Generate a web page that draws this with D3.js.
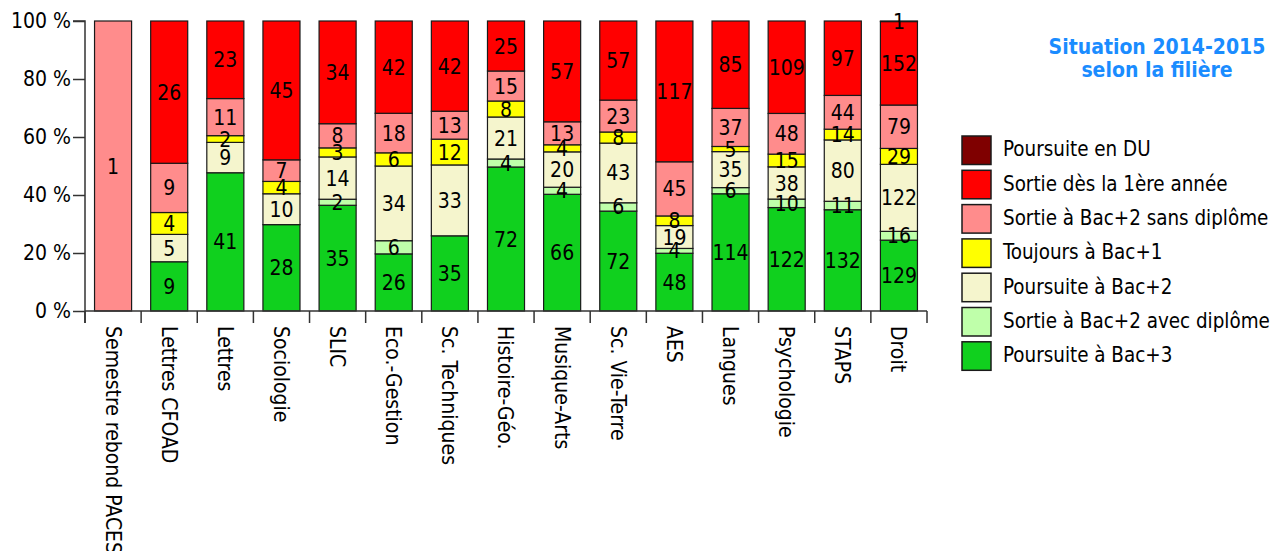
<!DOCTYPE html>
<html>
<head>
<meta charset="utf-8">
<script src="https://cdn.jsdelivr.net/npm/d3@7"></script>
<style>
  body { margin: 0; background: #fff; }
  text { font-family: "DejaVu Sans Condensed", "DejaVu Sans", sans-serif; }
</style>
</head>
<body>
<svg id="chart" width="1274" height="551"></svg>
<script>
// Data
const categories = ["Semestre rebond PACES", "Lettres CFOAD", "Lettres", "Sociologie", "SLIC",
  "Eco.-Gestion", "Sc. Techniques", "Histoire-Géo.", "Musique-Arts", "Sc. Vie-Terre",
  "AES", "Langues", "Psychologie", "STAPS", "Droit"]

// series, bottom to top
const poursuiteBac3      = [0, 9, 41, 28, 35, 26, 35, 72, 66, 72, 48, 114, 122, 132, 129]
const sortieAvecDiplome  = [0, 0, 0, 0, 2, 6, 0, 4, 4, 6, 4, 6, 10, 11, 16]
const poursuiteBac2      = [0, 5, 9, 10, 14, 34, 33, 21, 20, 43, 19, 35, 38, 80, 122]
const toujoursBac1       = [0, 4, 2, 4, 3, 6, 12, 8, 4, 8, 8, 5, 15, 14, 29]
const sortieSansDiplome  = [1, 9, 11, 7, 8, 18, 13, 15, 13, 23, 45, 37, 48, 44, 79]
const sortie1ereAnnee    = [0, 26, 23, 45, 34, 42, 42, 25, 57, 57, 117, 85, 109, 97, 152]
const poursuiteDU        = [0, 0, 0, 0, 0, 0, 0, 0, 0, 0, 0, 0, 0, 0, 1]

const seriesNames = ["Poursuite à Bac+3", "Sortie à Bac+2 avec diplôme", "Poursuite à Bac+2",
  "Toujours à Bac+1", "Sortie à Bac+2 sans diplôme", "Sortie dès la 1ère année", "Poursuite en DU"]
const seriesValues = [poursuiteBac3, sortieAvecDiplome, poursuiteBac2, toujoursBac1,
  sortieSansDiplome, sortie1ereAnnee, poursuiteDU]
const seriesColors = ["#10d01e", "#bfffaa", "#f5f5cd", "#ffff00", "#ff8c8c", "#ff0000", "#7f0000"]

const yTicks = [0, 0.2, 0.4, 0.6, 0.8, 1]
const title = ["Situation 2014-2015", "selon la filière"]

// build table for d3.stack
const table = categories.map((c, i) => {
  let row = { cat: c }
  seriesNames.forEach((s, j) => { row[s] = seriesValues[j][i] })
  return row
})

const svg = d3.select("#chart")
const margin = { left: 85, right: 927, top: 21, bottom: 311 }
const fontSize = 21
const fontFamily = '"DejaVu Sans Condensed", "DejaVu Sans", sans-serif'

const x = d3.scaleBand().domain(categories)
  .range([margin.left, margin.right])
  .paddingInner(0.34).paddingOuter(0.17)
const y = d3.scaleLinear().domain([0, 1]).range([margin.bottom, margin.top])
const color = d3.scaleOrdinal().domain(seriesNames).range(seriesColors)

const stacked = d3.stack().keys(seriesNames).offset(d3.stackOffsetExpand)(table)

const layers = svg.append("g").selectAll("g")
  .data(stacked)
  .enter().append("g")
    .attr("fill", d => color(d.key))

layers.selectAll("rect")
  .data(d => d.filter(p => p.data[d.key] > 0))
  .enter().append("rect")
    .attr("x", d => x(d.data.cat))
    .attr("width", x.bandwidth())
    .attr("y", d => y(d[1]))
    .attr("height", d => y(d[0]) - y(d[1]))
    .attr("stroke", "#1a1a1a")
    .attr("stroke-width", 1.2)

// value labels
const labels = svg.append("g")
stacked.forEach(layer => {
  layer.forEach(p => {
    let v = p.data[layer.key]
    if (v > 0) {
      labels.append("text")
        .attr("x", x(p.data.cat) + x.bandwidth() / 2)
        .attr("y", y((p[0] + p[1]) / 2))
        .attr("dy", "0.36em")
        .attr("text-anchor", "middle")
        .attr("font-size", fontSize)
        .attr("fill", "#000")
        .text(v)
    }
  })
})

// y axis
const yAxis = svg.append("g")
  .attr("transform", `translate(${margin.left},0)`)
  .call(d3.axisLeft(y).tickValues(yTicks).tickSize(12).tickPadding(2)
    .tickFormat(d => Math.round(d * 100) + " %"))
yAxis.select(".domain").attr("d", `M-12,${margin.top}H0V${margin.bottom + 12}`)
yAxis.selectAll("text").attr("font-size", fontSize).attr("fill", "#000")
  .style("font-family", fontFamily)
yAxis.selectAll("line, path").attr("stroke", "#333").attr("stroke-width", 1.5)

// x axis: ticks at band boundaries
const xAxis = svg.append("g")
xAxis.append("line")
  .attr("x1", margin.left).attr("x2", margin.right)
  .attr("y1", margin.bottom).attr("y2", margin.bottom)
  .attr("stroke", "#333").attr("stroke-width", 1.5)
const step = x.step()
xAxis.selectAll("line.tick")
  .data(d3.range(categories.length + 1))
  .enter().append("line")
    .attr("class", "tick")
    .attr("x1", i => margin.left + i * step)
    .attr("x2", i => margin.left + i * step)
    .attr("y1", margin.bottom).attr("y2", margin.bottom + 12)
    .attr("stroke", "#333").attr("stroke-width", 1.5)
xAxis.selectAll("text")
  .data(categories)
  .enter().append("text")
    .attr("transform", d => `translate(${x(d) + x.bandwidth() / 2},${margin.bottom + 15}) rotate(90)`)
    .attr("dy", "0.36em")
    .attr("font-size", fontSize)
    .attr("fill", "#000")
    .text(d => d)

// title
svg.append("text")
  .attr("x", 1157).attr("y", 54)
  .attr("text-anchor", "middle")
  .attr("font-size", 21).attr("font-weight", "bold")
  .attr("fill", "#1a8cff")
  .selectAll("tspan")
  .data(title)
  .enter().append("tspan")
    .attr("x", 1157)
    .attr("dy", (d, i) => i === 0 ? 0 : 23)
    .text(d => d)

// legend, top to bottom
const legendItems = seriesNames.slice().reverse()
const legend = svg.append("g").attr("transform", "translate(962,136)")
const row = legend.selectAll("g")
  .data(legendItems)
  .enter().append("g")
    .attr("transform", (d, i) => `translate(0,${i * 34.3})`)
row.append("rect")
  .attr("width", 29).attr("height", 28.5)
  .attr("fill", d => color(d))
  .attr("stroke", "#1a1a1a").attr("stroke-width", 1.5)
row.append("text")
  .attr("x", 41).attr("y", 13)
  .attr("dy", "0.36em")
  .attr("font-size", 20.4)
  .attr("fill", "#000")
  .text(d => d)
</script>
</body>
</html>
